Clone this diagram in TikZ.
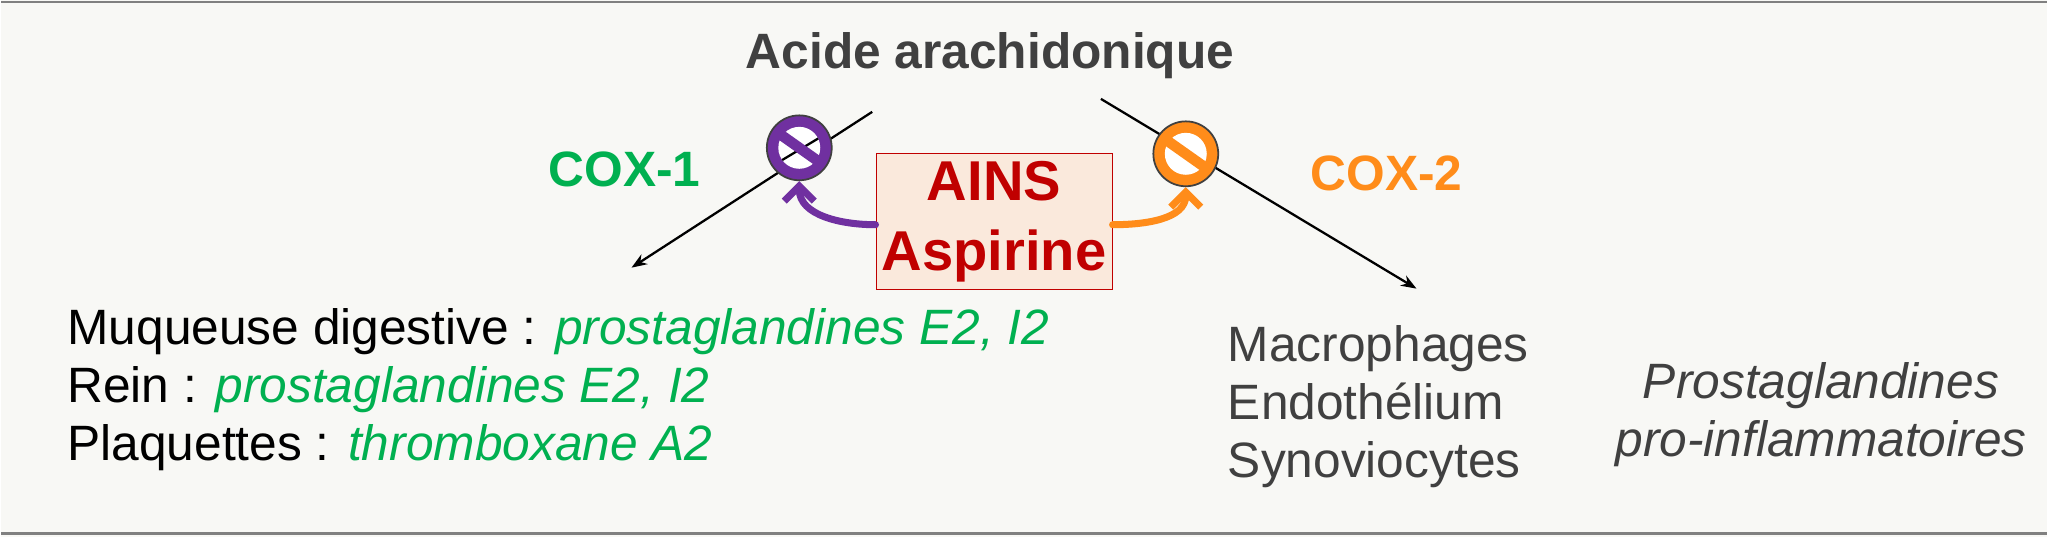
\documentclass[tikz,border=0pt]{standalone}
\usepackage{fontspec}
\setmainfont{Liberation Sans}
\usetikzlibrary{arrows.meta, positioning, calc}
\definecolor{coxgreen}{HTML}{00B050}
\definecolor{coxorange}{HTML}{FF8C1A}
\definecolor{coxpurple}{HTML}{7030A0}
\definecolor{ainsred}{HTML}{C00000}
\definecolor{ainsfill}{HTML}{FAE9DC}
\definecolor{txtgray}{HTML}{404040}
\definecolor{bggray}{HTML}{F8F8F5}
\begin{document}
\begin{tikzpicture}[
        x=0.02cm, y=-0.02cm,
        >=Stealth,
        every node/.style={font=\fontsize{28.3}{33}\selectfont},
        stop/.style={circle, draw=black!75, line width=1pt, minimum size=1.3cm, inner sep=0pt},
        bar/.style={line width=6pt, line cap=round}
    ]
    \fill[bggray] (0,0) rectangle (2048,538);
    \draw[gray, line width=1.5pt] (0,2) -- (2048,2);
    \draw[gray, line width=1.5pt] (0,534) -- (2048,534);
    \node (AA) at (990,56) {\bfseries\color{txtgray}Acide arachidonique};
    \coordinate (L0) at (872,112);
    \coordinate (L1) at (631,268);
    \coordinate (R0) at (1101,99);
    \coordinate (R1) at (1417,289);
    \draw[->, line width=1.3pt] (L0) -- (L1);
    \draw[->, line width=1.3pt] (R0) -- (R1);
    \node[text=coxgreen] (C1) at (624,170) {\bfseries COX-1};
    \node[text=coxorange] (C2) at (1387,174) {\bfseries COX-2};
    % stop signs
    \node[stop, fill=coxpurple] (P) at (799,148) {};
    \fill[white] (P) circle (0.42cm);
    \draw[black, line width=1.3pt] ($(P)!0.42cm!(L0)$) -- ($(P)!0.42cm!(L1)$);
    \draw[bar, coxpurple] (P.center) ++(-0.34cm,0.24cm) -- ++(0.68cm,-0.48cm);
    \node[stop, fill=coxorange] (O) at (1186,154) {};
    \fill[white] (O) circle (0.42cm);
    \draw[black, line width=1.3pt] ($(O)!0.42cm!(R0)$) -- ($(O)!0.42cm!(R1)$);
    \draw[bar, coxorange] (O.center) ++(-0.34cm,0.24cm) -- ++(0.68cm,-0.48cm);
    \node[draw=ainsred, fill=ainsfill, minimum width=4.66cm, minimum height=2.72cm,
          align=center, text=ainsred, font=\fontsize{32}{40}\selectfont\bfseries] (AINS) at (994,222)
          {AINS\\Aspirine};
    \draw[-{Straight Barb[length=3mm,width=6mm]}, coxpurple, line width=4pt, line cap=round] (AINS.west |- 0,225) to[out=180, in=-90] (P.south);
    \draw[-{Straight Barb[length=3mm,width=6mm]}, coxorange, line width=4pt, line cap=round] (AINS.east |- 0,225) to[out=0, in=-90] (O.south);
    % targets
    \node[anchor=west] (T1) at (60,332) {Muqueuse digestive : \textcolor{coxgreen}{\itshape prostaglandines E2, I2}};
    \node[anchor=west] (T2) at (60,390) {Rein : \textcolor{coxgreen}{\itshape prostaglandines E2, I2}};
    \node[anchor=west] (T3) at (60,448) {Plaquettes : \textcolor{coxgreen}{\itshape thromboxane A2}};
    \node[anchor=west, text=txtgray, align=left] (M) at (1222,407) {Macrophages\\Endothélium\\Synoviocytes};
    \node[text=txtgray, align=center, font=\fontsize{28.3}{33}\selectfont\itshape] (PG) at (1822,415) {Prostaglandines\\pro-inflammatoires};
\end{tikzpicture}
\end{document}
